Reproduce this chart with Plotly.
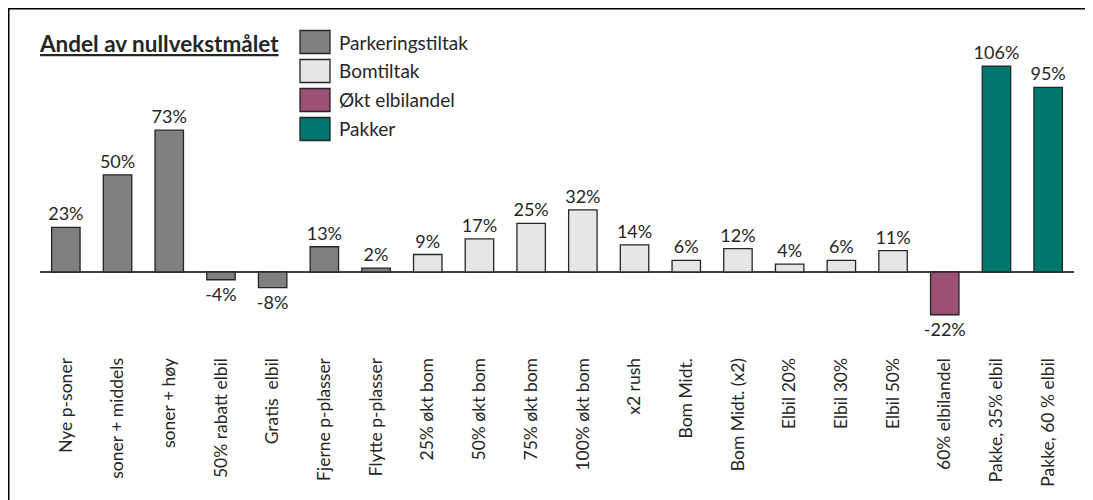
import plotly.graph_objects as go

categories = [
    "Nye p-soner", "soner + middels", "soner + høy", "50% rabatt elbil", "Gratis  elbil",
    "Fjerne p-plasser", "Flytte p-plasser", "25% økt bom", "50% økt bom", "75% økt bom",
    "100% økt bom", "x2 rush", "Bom Midt.", "Bom Midt. (x2)", "Elbil 20%",
    "Elbil 30%", "Elbil 50%", "60% elbilandel", "Pakke, 35% elbil", "Pakke, 60 % elbil",
]
values = [0.23, 0.50, 0.73, -0.04, -0.08, 0.13, 0.02, 0.09, 0.17, 0.25,
          0.32, 0.14, 0.06, 0.12, 0.04, 0.06, 0.11, -0.22, 1.06, 0.95]
groups = ["Parkeringstiltak"] * 7 + ["Bomtiltak"] * 10 + ["Økt elbilandel"] + ["Pakker"] * 2
group_names = ["Parkeringstiltak", "Bomtiltak", "Økt elbilandel", "Pakker"]
group_colors = ["#808080", "#E6E6E6", "#9B4F73", "#00776C"]
title_text = "Andel av nullvekstmålet"

FONT = "Lato"
TXT = "#262626"
cmap = dict(zip(group_names, group_colors))

fig = go.Figure()
fig.add_trace(go.Bar(
    x=categories, y=values,
    marker=dict(color=[cmap[g] for g in groups], line=dict(color="#262626", width=1.3)),
    width=0.55,
    text=[f"{round(v*100)}%" for v in values],
    textposition="outside",
    constraintext="none",
    textfont=dict(family=FONT, size=18, color=TXT),
    cliponaxis=False,
    showlegend=False,
))

W, H = 1093, 500
ml, mr, mt, mb = 32, 27, 32, 168
pw, ph = W - ml - mr, H - mt - mb

def px(x):
    return (x - ml) / pw

def py(y):
    return 1 - (y - mt) / ph

shapes = []
annotations = []
# outer border (open to the right/bottom as in reference)
shapes.append(dict(type="rect", xref="paper", yref="paper",
                   x0=px(0.75), x1=px(1300), y0=py(0.75), y1=py(800),
                   line=dict(color="#000000", width=1.5), fillcolor="rgba(0,0,0,0)", layer="below"))
# title
annotations.append(dict(xref="paper", yref="paper", x=px(29), y=py(35),
                        xanchor="left", yanchor="middle", showarrow=False,
                        text=f"<b><u>{title_text}</u></b>",
                        font=dict(family=FONT, size=22.5, color=TXT)))
# legend
for i, (name, col) in enumerate(zip(group_names, group_colors)):
    yc = 34 + i * 29
    shapes.append(dict(type="rect", xref="paper", yref="paper",
                       x0=px(292), x1=px(322), y0=py(yc - 11.5), y1=py(yc + 11.5),
                       fillcolor=col, line=dict(color="#262626", width=1.3)))
    annotations.append(dict(xref="paper", yref="paper", x=px(329), y=py(yc),
                            xanchor="left", yanchor="middle", showarrow=False,
                            text=name, font=dict(family=FONT, size=19, color=TXT)))

fig.update_layout(
    width=W, height=H,
    margin=dict(l=ml, r=mr, t=mt, b=mb),
    paper_bgcolor="white", plot_bgcolor="white",
    shapes=shapes, annotations=annotations,
    xaxis=dict(type="category", categoryorder="array", categoryarray=categories,
               tickangle=-90, showline=False, showgrid=False, zeroline=False,
               ticks="outside", ticklen=10, tickcolor="rgba(0,0,0,0)",
               tickfont=dict(family=FONT, size=17.5, color=TXT), range=[-0.5, 19.5],
               automargin=False),
    yaxis=dict(range=[-0.35, 1.194], showticklabels=False, showgrid=False,
               zeroline=True, zerolinecolor="#404040", zerolinewidth=1.5, showline=False),
    font=dict(family=FONT, color=TXT),
)

fig.write_html("out.html")
